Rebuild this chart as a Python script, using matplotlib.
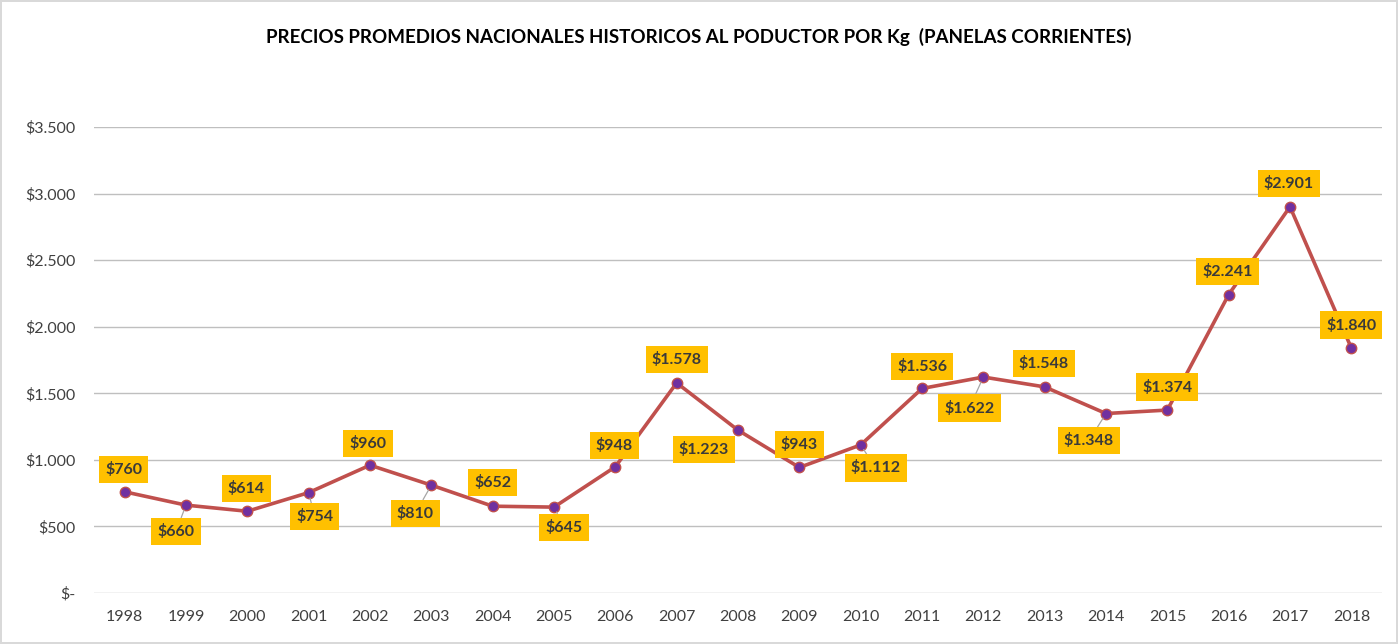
import numpy as np
import matplotlib.pyplot as plt

plt.rcParams['font.family'] = ['Lato', 'DejaVu Sans']

# Datos: precio promedio nacional al productor por Kg (pesos corrientes)
years = [str(y) for y in range(1998, 2019)]
prices = [760, 660, 614, 754, 960, 810, 652, 645, 948, 1578, 1223,
          943, 1112, 1536, 1622, 1548, 1348, 1374, 2241, 2901, 1840]
yticks = [0, 500, 1000, 1500, 2000, 2500, 3000, 3500]

# desplazamiento de cada etiqueta respecto al punto (pixeles, y hacia arriba)
label_dx = [-1, -10, -1, 6, -2, -16, 0, 10, -1, 0, -34,
            0, 15, 0, -14, -1, -17, 0, -1, -1, 0]
label_dy = [22, -26, 23, -24, 22, -28, 24, -20, 21, 23, -19,
            23, -23, 22, -31, 23, -27, 23, 23, 23, 23]
leader = [False, True, False, True, False, True, False, True, False, False, False,
          False, True, False, True, False, True, False, False, False, False]


def fmt(v):
    if v == 0:
        return '$-'
    return '$' + f'{v:,}'.replace(',', '.')


fig = plt.figure(figsize=(13.98, 6.44), dpi=100)
fig.patch.set_edgecolor('#D9D9D9')
fig.patch.set_linewidth(1.5)
ax = fig.add_axes([94 / 1398, 51 / 644, 1288 / 1398, 466 / 644])

x = np.arange(len(years))
ax.plot(x, prices, color='#C0504D', lw=2.6, marker='o', ms=7.5,
        mfc='#7030A0', mec='#C0504D', mew=1, zorder=3)

for i, v in enumerate(prices):
    arrow = dict(arrowstyle='-', color='#A6A6A6', lw=0.9, shrinkA=0, shrinkB=4) if leader[i] else None
    ax.annotate(fmt(v), (x[i], v), xytext=(label_dx[i], label_dy[i]),
                textcoords='offset pixels', ha='center', va='center',
                fontsize=11.5, fontweight='bold', color='#3A3A3A',
                bbox=dict(boxstyle='square,pad=0.38', fc='#FFC000', ec='none'),
                arrowprops=arrow, zorder=4)

ax.set_xlim(-0.5, len(years) - 0.5)
ax.set_ylim(0, 3500)
ax.set_xticks(x)
ax.set_xticklabels(years)
ax.set_yticks(yticks)
ax.set_yticklabels([fmt(t) for t in yticks])
ax.tick_params(length=0, labelsize=11.5, labelcolor='#404040')
ax.tick_params(axis='x', pad=12)
ax.tick_params(axis='y', pad=13)
ax.grid(axis='y', color='#BFBFBF', lw=1)
ax.set_axisbelow(True)
for s in ax.spines.values():
    s.set_visible(False)

fig.text(0.5, 1 - 37 / 644, 'PRECIOS PROMEDIOS NACIONALES HISTORICOS AL PODUCTOR POR Kg  (PANELAS CORRIENTES)',
         ha='center', va='center', fontsize=13.5, fontweight='bold', color='black')

fig.savefig('out.png', dpi=100)
